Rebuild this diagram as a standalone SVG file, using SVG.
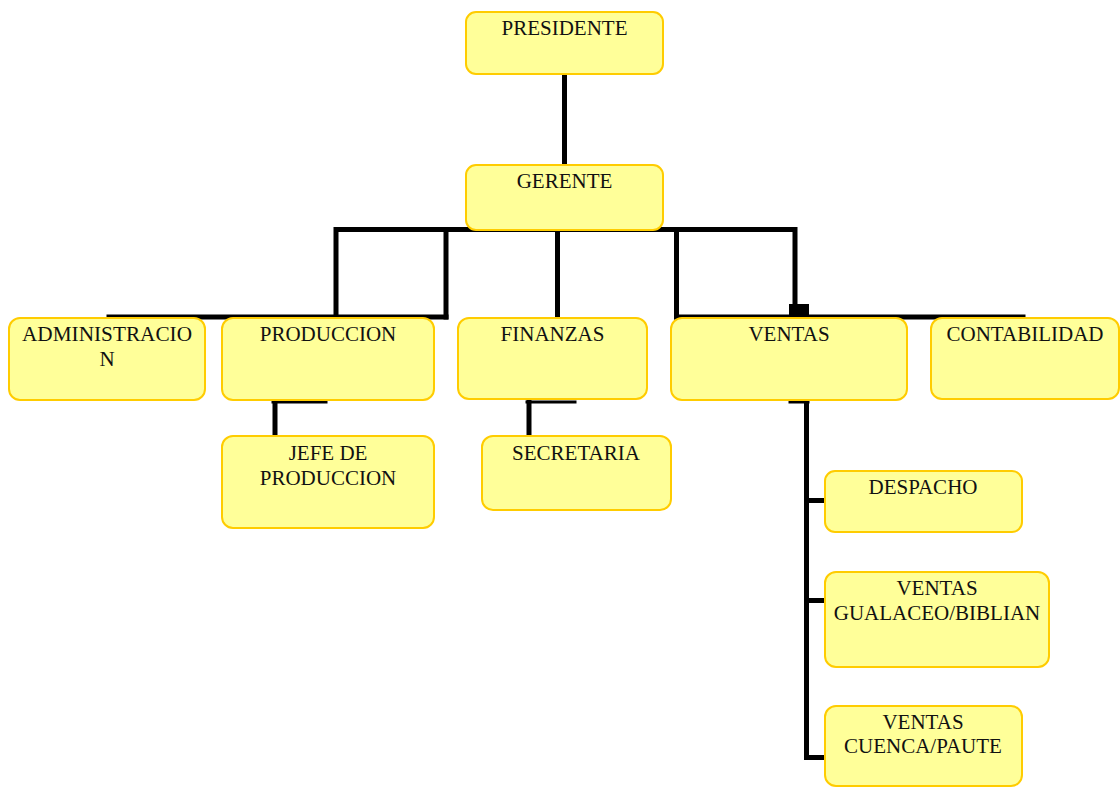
<svg xmlns="http://www.w3.org/2000/svg" width="1120" height="787" viewBox="0 0 1120 787">
<style>
.box{fill:#FFFF99;stroke:#FFCC00;stroke-width:2}
.t{font-family:"Liberation Serif","Times New Roman",serif;font-size:21px;fill:#111;text-anchor:middle}
.c{stroke:#000;fill:none;stroke-linecap:square}
.w5{stroke-width:5}
.w3{stroke-width:3}
</style>
<rect width="1120" height="787" fill="#fff"/>
<g id="connectors">
<line class="c w5" x1="564.5" y1="75" x2="564.5" y2="165"/>
<polyline class="c w5" points="336,317 336,229.5 795,229.5 795,317"/>
<line class="c w5" x1="446" y1="229.5" x2="446" y2="317"/>
<line class="c w5" x1="557.5" y1="229.5" x2="557.5" y2="317"/>
<line class="c w5" x1="676.5" y1="229.5" x2="676.5" y2="317"/>
<line class="c w5" x1="109" y1="317" x2="446" y2="317"/>
<line class="c w5" x1="676.5" y1="317" x2="1023" y2="317"/>
<rect x="789" y="304" width="20" height="13" fill="#000"/>
<line class="c w5" x1="275" y1="402" x2="275" y2="435"/>
<line class="c w3" x1="273" y1="402" x2="326" y2="402"/>
<line class="c w5" x1="529" y1="402" x2="529" y2="435"/>
<line class="c w3" x1="527" y1="402" x2="575" y2="402"/>
<line class="c w5" x1="806.5" y1="402" x2="806.5" y2="757.5"/>
<line class="c w3" x1="790" y1="402" x2="808" y2="402"/>
<line class="c w5" x1="806.5" y1="500.5" x2="824" y2="500.5"/>
<line class="c w5" x1="806.5" y1="600.5" x2="824" y2="600.5"/>
<line class="c w5" x1="806.5" y1="757.5" x2="824" y2="757.5"/>
</g>
<g id="presidente"><rect class="box" x="466" y="12" width="197" height="62" rx="10"/><text class="t" x="564.5" y="35">PRESIDENTE</text></g>
<g id="gerente"><rect class="box" x="466" y="165" width="197" height="65" rx="10"/><text class="t" x="564.5" y="188">GERENTE</text></g>
<g id="administracion"><rect class="box" x="9" y="318" width="196" height="82" rx="11"/><text class="t" x="107" y="341" textLength="170" lengthAdjust="spacingAndGlyphs">ADMINISTRACIO</text><text class="t" x="107" y="366">N</text></g>
<g id="produccion"><rect class="box" x="222" y="318" width="212" height="82" rx="11"/><text class="t" x="328" y="341">PRODUCCION</text></g>
<g id="finanzas"><rect class="box" x="458" y="318" width="189" height="81" rx="11"/><text class="t" x="552.5" y="341">FINANZAS</text></g>
<g id="ventas"><rect class="box" x="671" y="318" width="236" height="82" rx="11"/><text class="t" x="789" y="341">VENTAS</text></g>
<g id="contabilidad"><rect class="box" x="931" y="318" width="188" height="81" rx="11"/><text class="t" x="1025" y="341">CONTABILIDAD</text></g>
<g id="jefe-produccion"><rect class="box" x="222" y="436" width="212" height="92" rx="11"/><text class="t" x="328" y="460">JEFE DE</text><text class="t" x="328" y="485">PRODUCCION</text></g>
<g id="secretaria"><rect class="box" x="482" y="436" width="189" height="74" rx="11"/><text class="t" x="576" y="460">SECRETARIA</text></g>
<g id="despacho"><rect class="box" x="825" y="471" width="197" height="61" rx="10"/><text class="t" x="923" y="494">DESPACHO</text></g>
<g id="ventas-gualaceo"><rect class="box" x="825" y="572" width="224" height="95" rx="11"/><text class="t" x="937" y="595">VENTAS</text><text class="t" x="937" y="620">GUALACEO/BIBLIAN</text></g>
<g id="ventas-cuenca"><rect class="box" x="825" y="706" width="197" height="80" rx="11"/><text class="t" x="923" y="729">VENTAS</text><text class="t" x="923" y="753">CUENCA/PAUTE</text></g>
</svg>
